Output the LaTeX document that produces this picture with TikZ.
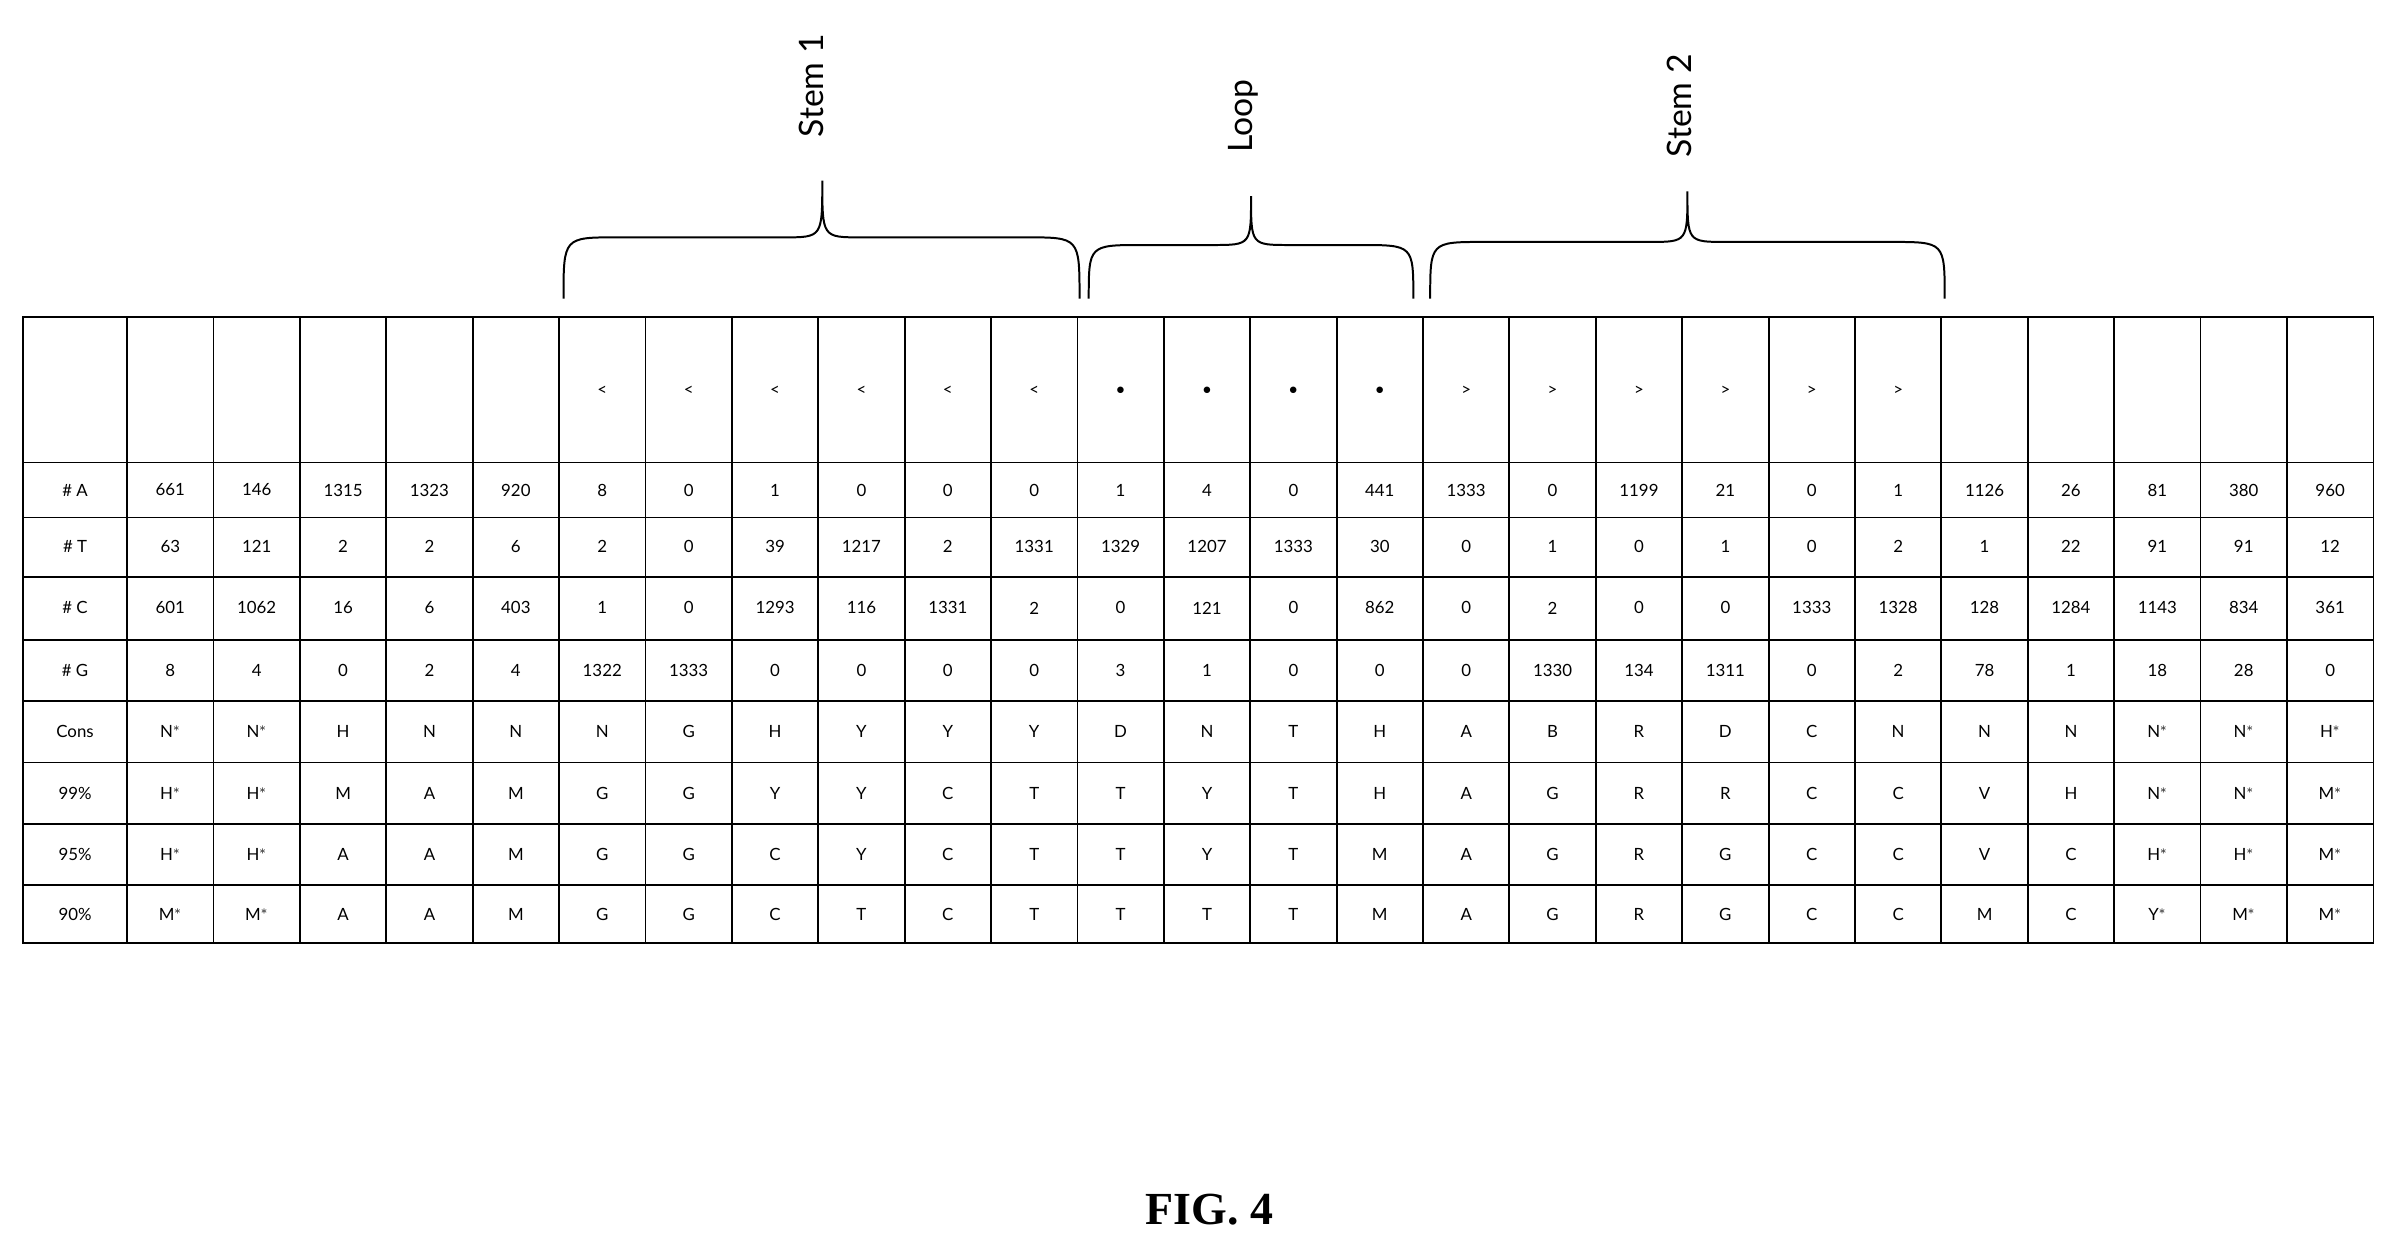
\documentclass[tikz,border=0pt]{standalone}
\usepackage{fontspec}
\setmainfont{Lato}
\newfontfamily\figfont{Liberation Serif}
\usetikzlibrary{positioning}
\newcommand{\st}{$^{\ast}$}
\begin{document}
\begin{tikzpicture}[x=1pt,y=-1pt,
    cell/.style={inner sep=0pt,font=\fontsize{11}{12}\selectfont},
    grid/.style={line width=1.2pt},
    brace/.style={line width=1.3pt},
    label/.style={rotate=90,anchor=west,inner sep=0pt,font=\fontsize{22}{24}\selectfont}
  ]
  \useasboundingbox (0,0) rectangle (1568,815);
  % table frame
  \draw[grid] (15,207) rectangle (1550,616);
  \foreach \y in {302,338,377,418,458,498,538,578}
    \draw[grid] (15,\y) -- (1550,\y);
  \draw[grid] (83,207) -- (83,616);
  \foreach \i in {1,...,25}
    \draw[grid] ({83+\i*56.42},207) -- ({83+\i*56.42},616);
  % header symbols
  \foreach \i in {6,...,11}
    \node[cell] (h\i) at ({83+(\i-0.5)*56.42},255) {<};
  \foreach \i in {12,...,15}
    \node[cell] (h\i) at ({83+(\i-0.5)*56.42},255) {$\bullet$};
  \foreach \i in {16,...,21}
    \node[cell] (h\i) at ({83+(\i-0.5)*56.42},255) {>};
  % rows
  \foreach \lab/\yc/\vals in {
    {\# A}/320/{661,146,1315,1323,920,8,0,1,0,0,0,1,4,0,441,1333,0,1199,21,0,1,1126,26,81,380,960},
    {\# T}/357/{63,121,2,2,6,2,0,39,1217,2,1331,1329,1207,1333,30,0,1,0,1,0,2,1,22,91,91,12},
    {\# C}/397/{601,1062,16,6,403,1,0,1293,116,1331,2,0,121,0,862,0,2,0,0,1333,1328,128,1284,1143,834,361},
    {\# G}/438/{8,4,0,2,4,1322,1333,0,0,0,0,3,1,0,0,0,1330,134,1311,0,2,78,1,18,28,0},
    Cons/478/{N\st,N\st,H,N,N,N,G,H,Y,Y,Y,D,N,T,H,A,B,R,D,C,N,N,N,N\st,N\st,H\st},
    99\%/518/{H\st,H\st,M,A,M,G,G,Y,Y,C,T,T,Y,T,H,A,G,R,R,C,C,V,H,N\st,N\st,M\st},
    95\%/558/{H\st,H\st,A,A,M,G,G,C,Y,C,T,T,Y,T,M,A,G,R,G,C,C,V,C,H\st,H\st,M\st},
    90\%/597/{M\st,M\st,A,A,M,G,G,C,T,C,T,T,T,T,M,A,G,R,G,C,C,M,C,Y\st,M\st,M\st}} {
    \node[cell] at (49,\yc) {\lab};
    \foreach \v [count=\i] in \vals
      \node[cell] at ({83+(\i-0.5)*56.42},\yc) {\v};
  }
  % braces
  \foreach \l/\r/\t/\m/\tip in {368/705/155/537/118, 711/923/160/817/128, 934/1270/158/1102/125} {
    \draw[brace] (\l,195) .. controls (\l,\t) .. ({\l+35},\t) -- ({\m-25},\t)
      .. controls (\m,\t) .. (\m,\tip) .. controls (\m,\t) .. ({\m+25},\t)
      -- ({\r-35},\t) .. controls (\r,\t) .. (\r,195);
  }
  \node[label] (stem1) at (530,90) {Stem 1};
  \node[label] (loop) at (812,100) {Loop};
  \node[label] (stem2) at (1097,103) {Stem 2};
  \node[font=\figfont\bfseries\fontsize{30}{32}\selectfont] (fig) at (790,790) {FIG. 4};
\end{tikzpicture}
\end{document}
